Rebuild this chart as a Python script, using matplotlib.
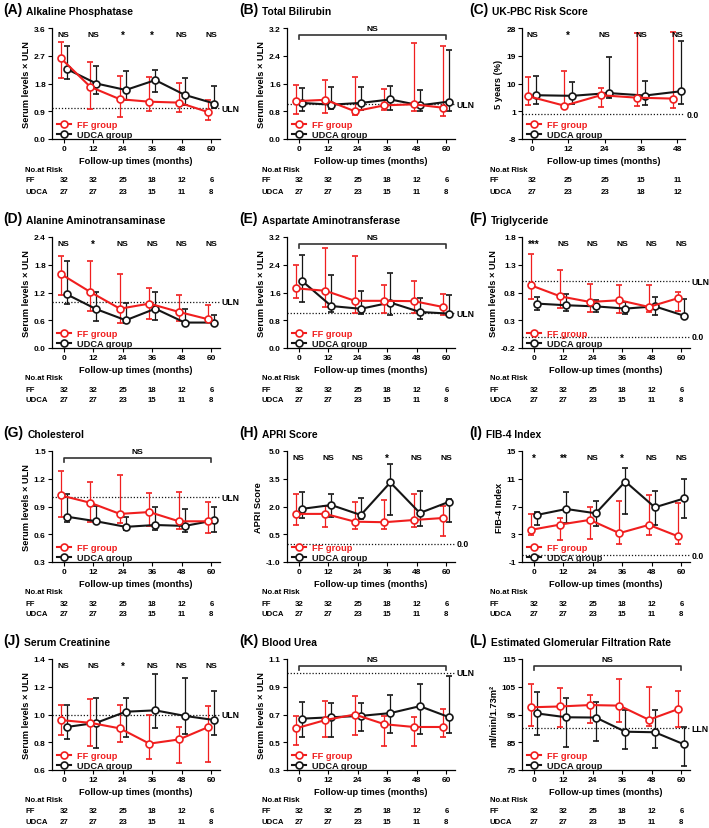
import numpy as np
import matplotlib.pyplot as plt
from matplotlib.lines import Line2D
from matplotlib.transforms import blended_transform_factory as blend

plt.rcParams['font.family'] = ['Liberation Sans', 'DejaVu Sans']
plt.rcParams['font.weight'] = 'bold'
plt.rcParams['axes.labelweight'] = 'bold'

W, H = 709, 829
RED = '#f01e1e'
BLACK = '#151515'

# follow-up visits and numbers at risk
months = [0, 12, 24, 36, 48, 60]
months_pbc = [0, 12, 24, 36, 48]
risk_ff = [32, 32, 25, 18, 12, 6]
risk_udca = [27, 27, 23, 15, 11, 8]
risk_ff_pbc = [32, 25, 25, 15, 11]
risk_udca_pbc = [27, 23, 23, 18, 12]

# (A) alkaline phosphatase: median, lower, upper
alp_ff = [2.62, 1.69, 1.29, 1.21, 1.18, 0.87]
alp_ff_lo = [1.99, 0.96, 0.72, 0.91, 0.87, 0.61]
alp_ff_hi = [3.14, 2.51, 2.05, 2.00, 1.81, 1.27]
alp_ud = [2.27, 1.80, 1.59, 1.91, 1.43, 1.15]
alp_ud_lo = [1.96, 1.45, 1.27, 1.51, 1.09, 1.01]
alp_ud_hi = [3.03, 2.38, 2.19, 2.25, 1.97, 1.72]
alp_sig = ['NS', 'NS', '*', '*', 'NS', 'NS']
alp_yticks = [0.0, 0.9, 1.8, 2.7, 3.6]

# (B) total bilirubin
tbil_ff = [1.09, 1.13, 0.80, 0.97, 1.00, 0.90]
tbil_ff_lo = [0.72, 0.76, 0.68, 0.85, 0.81, 0.66]
tbil_ff_hi = [1.57, 1.70, 1.79, 1.44, 2.77, 2.68]
tbil_ud = [1.04, 0.99, 1.04, 1.14, 0.97, 1.08]
tbil_ud_lo = [0.80, 0.87, 0.83, 0.85, 0.81, 0.81]
tbil_ud_hi = [1.46, 1.49, 1.51, 1.52, 1.42, 2.56]
tbil_yticks = [0.0, 0.8, 1.6, 2.4, 3.2]

# (C) UK-PBC risk score, 5 years (%)
pbc_ff = [5.9, 2.8, 6.2, 5.4, 5.1]
pbc_ff_lo = [3.0, 2.1, 2.45, 2.8, 1.9]
pbc_ff_hi = [12.05, 14.0, 8.7, 26.4, 26.7]
pbc_ud = [6.2, 6.0, 6.9, 6.1, 7.5]
pbc_ud_lo = [3.5, 3.2, 5.2, 3.0, 3.3]
pbc_ud_hi = [12.3, 10.5, 18.5, 10.7, 23.7]
pbc_sig = ['NS', '*', 'NS', 'NS', 'NS']
pbc_yticks = [-8, 1, 10, 19, 28]

# (D) alanine aminotransaminase
alt_ff = [1.60, 1.21, 0.85, 0.96, 0.78, 0.62]
alt_ff_lo = [1.15, 0.80, 0.53, 0.63, 0.58, 0.56]
alt_ff_hi = [2.00, 1.88, 1.61, 1.29, 1.15, 0.92]
alt_ud = [1.16, 0.84, 0.60, 0.85, 0.55, 0.55]
alt_ud_lo = [0.95, 0.58, 0.55, 0.60, 0.49, 0.49]
alt_ud_hi = [1.88, 1.22, 0.97, 1.21, 0.84, 0.71]
alt_sig = ['NS', '*', 'NS', 'NS', 'NS', 'NS']
alt_yticks = [0.0, 0.6, 1.2, 1.8, 2.4]

# (E) aspartate aminotransferase
ast_ff = [1.72, 1.65, 1.36, 1.36, 1.35, 1.18]
ast_ff_lo = [1.43, 1.19, 1.02, 1.02, 1.02, 0.94]
ast_ff_hi = [2.40, 2.88, 2.64, 1.81, 1.92, 1.57]
ast_ud = [1.94, 1.21, 1.13, 1.31, 1.04, 0.99]
ast_ud_lo = [1.33, 1.04, 0.97, 0.95, 0.84, 0.92]
ast_ud_hi = [2.67, 2.10, 1.65, 2.15, 1.43, 1.53]
ast_yticks = [0.0, 0.8, 1.6, 2.4, 3.2]

# (F) triglyceride
tg_ff = [0.93, 0.73, 0.63, 0.66, 0.54, 0.70]
tg_ff_lo = [0.69, 0.52, 0.45, 0.43, 0.45, 0.46]
tg_ff_hi = [1.49, 1.20, 0.96, 0.93, 0.93, 0.81]
tg_ud = [0.60, 0.57, 0.55, 0.51, 0.55, 0.38]
tg_ud_lo = [0.49, 0.46, 0.45, 0.41, 0.40, 0.37]
tg_ud_hi = [0.72, 0.78, 0.66, 0.63, 0.72, 0.68]
tg_sig = ['***', 'NS', 'NS', 'NS', 'NS', 'NS']
tg_yticks = [-0.2, 0.3, 0.8, 1.3, 1.8]

# (G) cholesterol
chol_ff = [1.02, 0.94, 0.82, 0.84, 0.74, 0.74]
chol_ff_lo = [0.79, 0.73, 0.72, 0.69, 0.66, 0.61]
chol_ff_hi = [1.28, 1.17, 1.24, 1.05, 1.06, 0.95]
chol_ud = [0.79, 0.74, 0.68, 0.70, 0.69, 0.75]
chol_ud_lo = [0.73, 0.72, 0.65, 0.65, 0.62, 0.62]
chol_ud_hi = [1.03, 0.91, 0.79, 0.89, 0.87, 0.89]
chol_yticks = [0.3, 0.6, 0.9, 1.2, 1.5]

# (H) APRI score
apri_ff = [1.60, 1.60, 1.18, 1.15, 1.27, 1.38]
apri_ff_lo = [1.01, 0.88, 0.79, 0.79, 0.88, 0.40]
apri_ff_hi = [2.67, 2.01, 2.22, 2.37, 2.67, 2.01]
apri_ud = [1.87, 2.08, 1.54, 3.30, 1.65, 2.26]
apri_ud_lo = [1.36, 1.42, 1.33, 1.56, 0.93, 1.18]
apri_ud_hi = [2.81, 2.67, 2.46, 4.28, 2.85, 2.40]
apri_sig = ['NS', 'NS', 'NS', '*', 'NS', 'NS']
apri_yticks = [-1.0, 0.5, 2.0, 3.5, 5.0]

# (I) FIB-4 index
fib_ff = [3.63, 4.40, 5.07, 3.16, 4.35, 2.68]
fib_ff_lo = [2.82, 2.10, 2.25, 1.63, 2.82, 1.63]
fib_ff_hi = [5.93, 5.35, 6.88, 7.74, 8.65, 7.46]
fib_ud = [5.78, 6.64, 6.02, 10.6, 6.88, 8.17]
fib_ud_lo = [4.35, 4.59, 4.25, 5.93, 4.35, 5.35]
fib_ud_hi = [6.17, 9.03, 7.84, 12.6, 9.27, 10.94]
fib_sig = ['*', '**', 'NS', '*', 'NS', 'NS']
fib_yticks = [-1, 3, 7, 11, 15]

# (J) serum creatinine
cr_ff = [0.96, 0.94, 0.90, 0.79, 0.82, 0.91]
cr_ff_lo = [0.85, 0.77, 0.80, 0.68, 0.65, 0.66]
cr_ff_hi = [1.07, 1.11, 1.07, 1.00, 0.91, 1.06]
cr_ud = [0.91, 0.94, 1.02, 1.03, 0.99, 0.96]
cr_ud_lo = [0.82, 0.76, 0.84, 0.90, 0.86, 0.85]
cr_ud_hi = [1.07, 1.12, 1.12, 1.29, 1.26, 1.17]
cr_sig = ['NS', 'NS', '*', 'NS', 'NS', 'NS']
cr_yticks = [0.6, 0.8, 1.0, 1.2, 1.4]

# (K) blood urea
urea_ff = [0.60, 0.66, 0.70, 0.63, 0.61, 0.61]
urea_ff_lo = [0.48, 0.54, 0.55, 0.47, 0.47, 0.54]
urea_ff_hi = [0.69, 0.80, 0.83, 0.69, 0.68, 0.74]
urea_ud = [0.67, 0.68, 0.69, 0.71, 0.76, 0.68]
urea_ud_lo = [0.54, 0.54, 0.58, 0.57, 0.56, 0.57]
urea_ud_hi = [0.79, 0.78, 0.78, 0.84, 0.92, 0.98]
urea_yticks = [0.3, 0.5, 0.7, 0.9, 1.1]

# (L) estimated glomerular filtration rate
egfr_ff = [97.6, 97.9, 98.4, 98.2, 93.1, 97.0]
egfr_ff_lo = [91.0, 90.6, 91.8, 92.4, 90.7, 90.6]
egfr_ff_hi = [106.0, 104.5, 102.0, 107.8, 104.8, 103.6]
egfr_ud = [95.4, 94.0, 93.9, 88.8, 88.6, 84.2]
egfr_ud_lo = [87.6, 83.2, 85.3, 82.6, 82.9, 76.6]
egfr_ud_hi = [103.2, 100.9, 99.6, 96.6, 96.6, 90.4]
egfr_yticks = [75, 85, 95, 105, 115]

SERUM = 'Serum levels \u00d7 ULN'

panels = [
    dict(tag='(A)', name='Alkaline Phosphatase', ylabel=SERUM,
         ff=(alp_ff, alp_ff_lo, alp_ff_hi), ud=(alp_ud, alp_ud_lo, alp_ud_hi),
         sig=alp_sig, yticks=alp_yticks, refs=[(1.0, 'ULN')]),
    dict(tag='(B)', name='Total Bilirubin', ylabel=SERUM,
         ff=(tbil_ff, tbil_ff_lo, tbil_ff_hi), ud=(tbil_ud, tbil_ud_lo, tbil_ud_hi),
         sig=None, yticks=tbil_yticks, refs=[(1.0, 'ULN')]),
    dict(tag='(C)', name='UK-PBC Risk Score', ylabel='5 years (%)',
         ff=(pbc_ff, pbc_ff_lo, pbc_ff_hi), ud=(pbc_ud, pbc_ud_lo, pbc_ud_hi),
         sig=pbc_sig, yticks=pbc_yticks, refs=[(0.0, '0.0')], pbc=True),
    dict(tag='(D)', name='Alanine Aminotransaminase', ylabel=SERUM,
         ff=(alt_ff, alt_ff_lo, alt_ff_hi), ud=(alt_ud, alt_ud_lo, alt_ud_hi),
         sig=alt_sig, yticks=alt_yticks, refs=[(1.0, 'ULN')]),
    dict(tag='(E)', name='Aspartate Aminotransferase', ylabel=SERUM,
         ff=(ast_ff, ast_ff_lo, ast_ff_hi), ud=(ast_ud, ast_ud_lo, ast_ud_hi),
         sig=None, yticks=ast_yticks, refs=[(1.0, 'ULN')]),
    dict(tag='(F)', name='Triglyceride', ylabel=SERUM,
         ff=(tg_ff, tg_ff_lo, tg_ff_hi), ud=(tg_ud, tg_ud_lo, tg_ud_hi),
         sig=tg_sig, yticks=tg_yticks, refs=[(1.0, 'ULN'), (0.0, '0.0')]),
    dict(tag='(G)', name='Cholesterol', ylabel=SERUM,
         ff=(chol_ff, chol_ff_lo, chol_ff_hi), ud=(chol_ud, chol_ud_lo, chol_ud_hi),
         sig=None, yticks=chol_yticks, refs=[(1.0, 'ULN')]),
    dict(tag='(H)', name='APRI Score', ylabel='APRI Score',
         ff=(apri_ff, apri_ff_lo, apri_ff_hi), ud=(apri_ud, apri_ud_lo, apri_ud_hi),
         sig=apri_sig, yticks=apri_yticks, refs=[(0.0, '0.0')]),
    dict(tag='(I)', name='FIB-4 Index', ylabel='FIB-4 Index',
         ff=(fib_ff, fib_ff_lo, fib_ff_hi), ud=(fib_ud, fib_ud_lo, fib_ud_hi),
         sig=fib_sig, yticks=fib_yticks, refs=[(0.0, '0.0')]),
    dict(tag='(J)', name='Serum Creatinine', ylabel=SERUM,
         ff=(cr_ff, cr_ff_lo, cr_ff_hi), ud=(cr_ud, cr_ud_lo, cr_ud_hi),
         sig=cr_sig, yticks=cr_yticks, refs=[(1.0, 'ULN')]),
    dict(tag='(K)', name='Blood Urea', ylabel=SERUM,
         ff=(urea_ff, urea_ff_lo, urea_ff_hi), ud=(urea_ud, urea_ud_lo, urea_ud_hi),
         sig=None, yticks=urea_yticks, refs=[(1.0, 'ULN')]),
    dict(tag='(L)', name='Estimated Glomerular Filtration Rate',
         ylabel='ml/min/1.73m\u00b2',
         ff=(egfr_ff, egfr_ff_lo, egfr_ff_hi), ud=(egfr_ud, egfr_ud_lo, egfr_ud_hi),
         sig=None, yticks=egfr_yticks, refs=[(90, 'LLN')]),
]

# layout in pixels
col_left = [52, 287, 522]
col_tag = [3, 239, 469]
col_risk = [25, 262, 490]
row_top = [29, 238, 452, 660]
AX_W, AX_H = 168, 111

fig = plt.figure(figsize=(W / 100, H / 100), dpi=100)


def fy(px):
    return 1 - px / H


def series(ax, xs, vals, color):
    m, lo, hi = (np.asarray(v, float) for v in vals)
    ax.errorbar(xs, m, yerr=[m - lo, hi - m], color=color, lw=1.5,
                marker='o', ms=5, mfc='white', mec=color, mew=1.2,
                elinewidth=0.9, capsize=2.3, capthick=0.9, zorder=3)


for i, p in enumerate(panels):
    r, c = divmod(i, 3)
    left, top = col_left[c], row_top[r]
    pbc = p.get('pbc', False)
    w = 163 if pbc else AX_W
    ax = fig.add_axes([left / W, fy(top + AX_H), w / W, AX_H / H])

    x = np.array(months_pbc if pbc else months, float)
    rff = risk_ff_pbc if pbc else risk_ff
    rud = risk_udca_pbc if pbc else risk_udca
    d = 1.3 if pbc else 1.2

    series(ax, x + d, p['ud'], BLACK)
    series(ax, x - d, p['ff'], RED)

    yt = p['yticks']
    ax.set_ylim(yt[0], yt[-1])
    ax.set_yticks(yt)
    fmt = '{:.0f}' if isinstance(yt[0], int) else '{:.1f}'
    ax.set_yticklabels([fmt.format(v) for v in yt])
    ax.set_xticks(x)
    ax.set_xticklabels([str(int(v)) for v in x])
    ax.set_xlim((-3.3, 50.5) if pbc else (-4.8, 63.5))

    for s in ['top', 'right']:
        ax.spines[s].set_visible(False)
    for s in ['left', 'bottom']:
        ax.spines[s].set_linewidth(0.9)
    ax.tick_params(labelsize=6, length=3, width=0.8, pad=1.5)
    ax.set_ylabel(p['ylabel'], fontsize=6.7, labelpad=2)
    ax.set_xlabel('Follow-up times (months)', fontsize=6.7, labelpad=2.5)

    ty = blend(ax.transAxes, ax.transData)
    for val, lab in p['refs']:
        ax.axhline(val, color=BLACK, lw=0.9, ls=(0, (1, 1.5)), zorder=1)
        ax.text(1.01, val, lab, transform=ty, ha='left', va='center',
                fontsize=6.3, clip_on=False)

    tx = blend(ax.transData, ax.transAxes)
    if p['sig'] is None:
        ax.plot([0, 0, 60, 60], [0.905, 0.935, 0.935, 0.905], transform=tx,
                color='#333333', lw=1.2, clip_on=False)
        ax.text(30, 0.995, 'NS', transform=tx, ha='center', va='center',
                fontsize=6, clip_on=False)
    else:
        for xv, s in zip(x, p['sig']):
            ax.text(xv, 0.94, s, transform=tx, ha='center', va='center',
                    fontsize=7 if '*' in s else 6, clip_on=False)

    handles = [Line2D([], [], color=RED, lw=1.5, marker='o', ms=5, mfc='white',
                      mec=RED, mew=1.2),
               Line2D([], [], color=BLACK, lw=1.5, marker='o', ms=5, mfc='white',
                      mec=BLACK, mew=1.2)]
    leg = ax.legend(handles, ['FF group', 'UDCA group'], loc='lower left',
                    bbox_to_anchor=(0.02, -0.02), frameon=False, fontsize=6.7,
                    handlelength=1.5, handletextpad=0.6, labelspacing=0.12,
                    borderaxespad=0, borderpad=0.2)
    leg.get_texts()[0].set_color(RED)
    leg.get_texts()[1].set_color(BLACK)

    # panel title
    tg = fig.text(col_tag[c] / W, fy(top - 15), p['tag'], fontsize=10,
                  ha='left', va='baseline')
    ax.annotate(p['name'], xy=(1, 0), xycoords=tg, xytext=(3, 0),
                textcoords='offset points', fontsize=7.4, ha='left',
                va='bottom', annotation_clip=False)

    # numbers at risk
    bottom = top + AX_H
    fig.text(col_risk[c] / W, fy(bottom + 30), 'No.at Risk', fontsize=5.6,
             va='center')
    fig.text(col_risk[c] / W, fy(bottom + 41), 'FF', fontsize=5.6, va='center')
    fig.text(col_risk[c] / W, fy(bottom + 52), 'UDCA', fontsize=5.6, va='center')
    tr = blend(ax.transData, fig.transFigure)
    for xv, a, b in zip(x, rff, rud):
        ax.text(xv, fy(bottom + 41), str(a), transform=tr, ha='center',
                va='center', fontsize=5.6, clip_on=False)
        ax.text(xv, fy(bottom + 52), str(b), transform=tr, ha='center',
                va='center', fontsize=5.6, clip_on=False)

fig.savefig('out.png', dpi=100)
